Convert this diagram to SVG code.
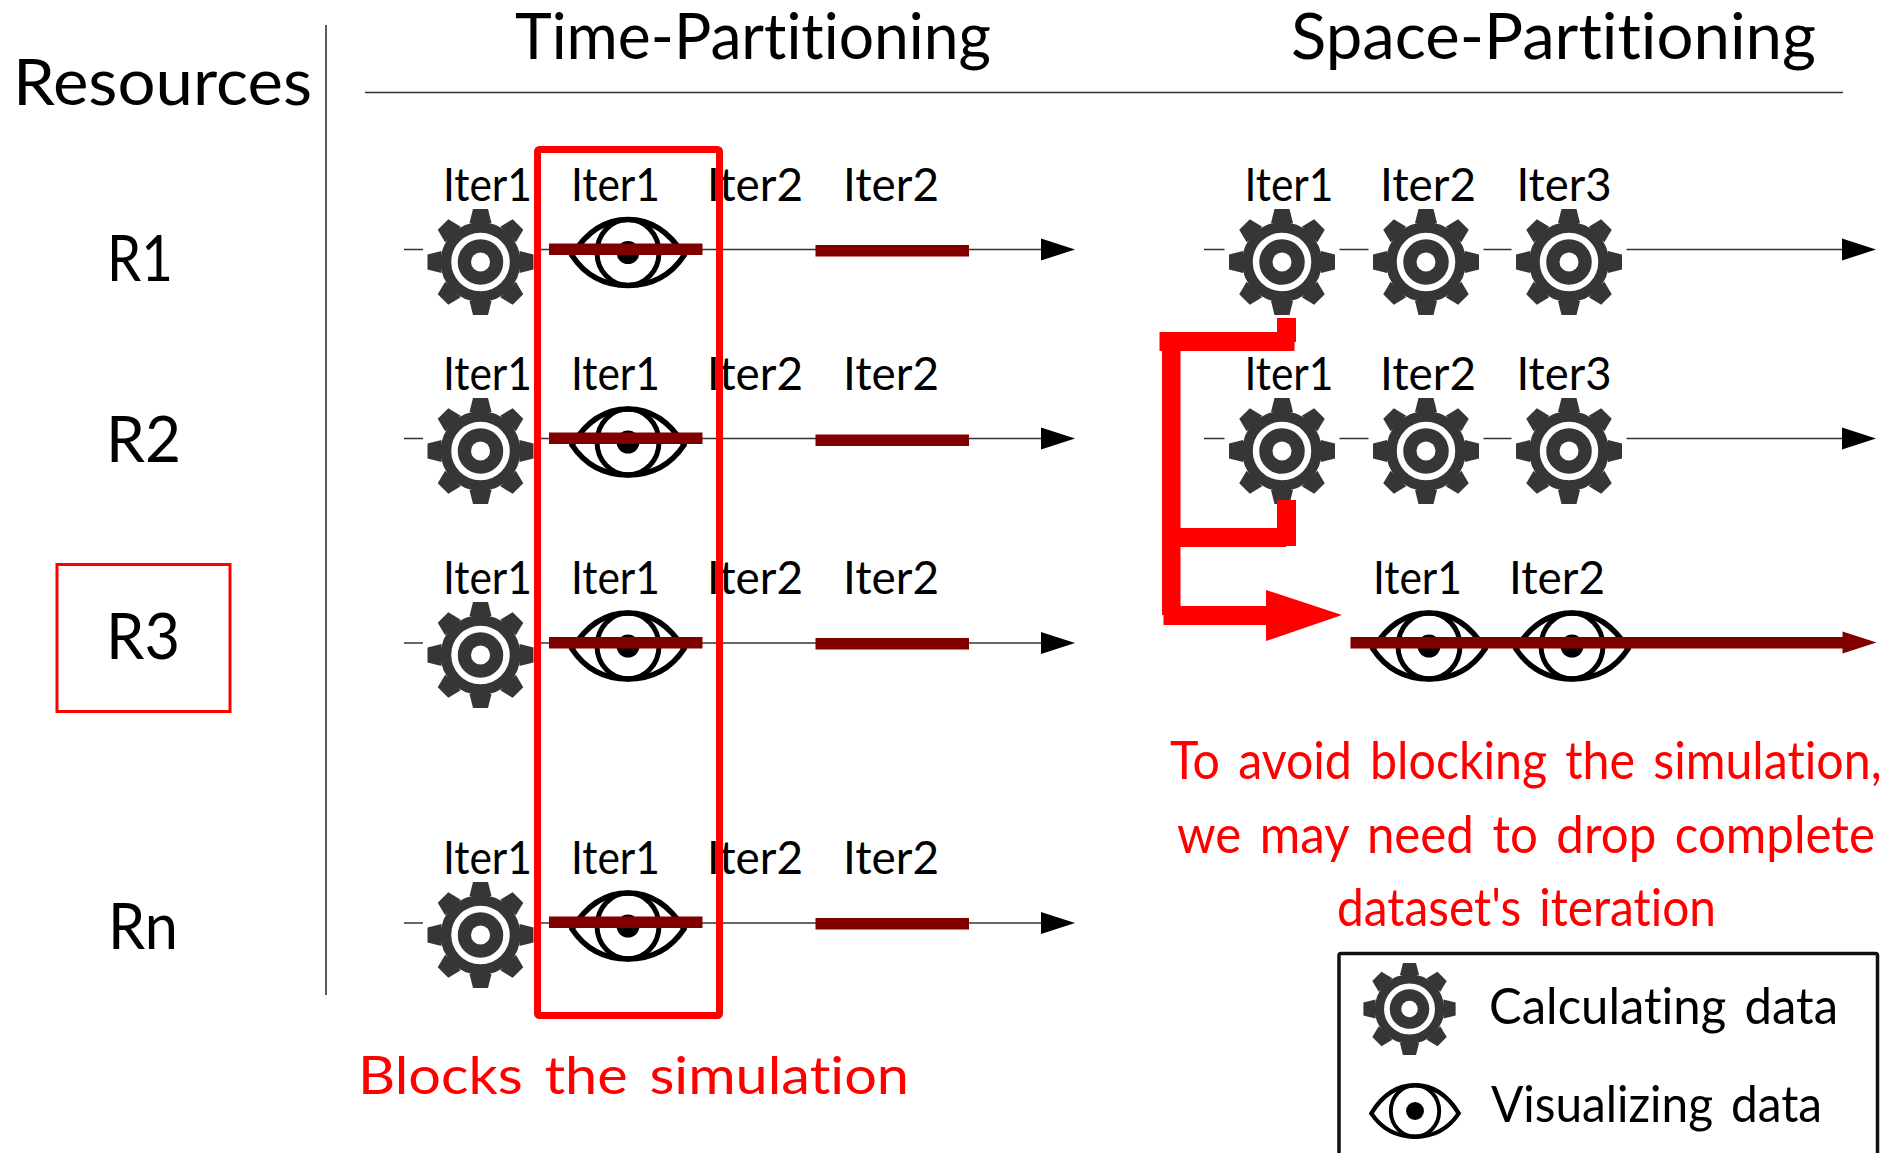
<svg xmlns="http://www.w3.org/2000/svg" xmlns:xlink="http://www.w3.org/1999/xlink" width="1890" height="1153" viewBox="0 0 1890 1153">
<style>
text{font-family:"Lato","Liberation Sans",sans-serif;fill:#000;font-variant-ligatures:none}
.it{font-size:47px}
.hd{font-size:63px}
.rs{font-size:64px}
.red{fill:#f00;font-size:52px;word-spacing:.12em}
.lg{font-size:51px;word-spacing:.12em}
.ln{stroke:#333;stroke-width:1.6;fill:none}
.ar{marker-end:url(#ah)}
.bar{fill:#800000}
.rc{fill:#f00}
</style>
<defs>
<marker id="ah" markerUnits="userSpaceOnUse" markerWidth="34" markerHeight="24" refX="0" refY="12" orient="auto"><path d="M0 1L34 12L0 23Z" fill="#000"/></marker>
<g id="gear">
<rect x="-57.500" y="-53" width="115" height="106" fill="#fff"/>
<g fill="#363636">
<circle r="40"/>
<path id="t" d="M-11 -39L-7.500 -53L7.500 -53L11 -39Z"/>
<use xlink:href="#t" transform="rotate(45)"/><use xlink:href="#t" transform="rotate(90)"/><use xlink:href="#t" transform="rotate(135)"/><use xlink:href="#t" transform="rotate(180)"/><use xlink:href="#t" transform="rotate(225)"/><use xlink:href="#t" transform="rotate(270)"/><use xlink:href="#t" transform="rotate(315)"/>
</g>
<circle r="26" fill="none" stroke="#fff" stroke-width="6.500"/>
<circle r="9.500" fill="#fff"/>
</g>
<g id="eye">
<path d="M-56 3C-42 -20 -24 -33 0 -33C24 -33 42 -20 56 3C42 24 24 33 0 33C-24 33 -42 24 -56 3Z" fill="none" stroke="#000" stroke-width="5.500"/>
<ellipse rx="31" ry="33" fill="none" stroke="#000" stroke-width="5"/>
<circle r="11.500" fill="#000"/>
</g>
</defs>
<rect width="1890" height="1153" fill="#fff"/>

<g id="connectors">
<path class="ln" d="M326 25V995"/>
<path class="ln" d="M365 92.500H1843"/>
<path class="ln ar" d="M404 249.500H1041"/>
<path class="ln ar" d="M404 438.500H1041"/>
<path class="ln ar" d="M404 643H1041"/>
<path class="ln ar" d="M404 923H1041"/>
<path class="ln ar" d="M1204 249.500H1842"/>
<path class="ln ar" d="M1204 438.500H1842"/>
</g>

<g id="header">
<text class="hd" x="515" y="59" textLength="476" lengthAdjust="spacingAndGlyphs">Time-Partitioning</text>
<text class="hd" x="1291" y="59" textLength="525" lengthAdjust="spacingAndGlyphs">Space-Partitioning</text>
<text class="rs" x="13" y="105" textLength="299" lengthAdjust="spacingAndGlyphs">Resources</text>
</g>
<g id="r1"><text class="rs" x="107" y="281" textLength="66" lengthAdjust="spacingAndGlyphs">R1</text></g>
<g id="r2"><text class="rs" x="106" y="462" textLength="75" lengthAdjust="spacingAndGlyphs">R2</text></g>
<g id="r3"><rect x="57" y="564.500" width="173" height="147" fill="none" stroke="#f00" stroke-width="3"/><text class="rs" x="106" y="659" textLength="74" lengthAdjust="spacingAndGlyphs">R3</text></g>
<g id="rn"><text class="rs" x="108" y="949" textLength="70" lengthAdjust="spacingAndGlyphs">Rn</text></g>

<g id="time-r1">
<use xlink:href="#gear" x="480.500" y="262"/><use xlink:href="#eye" x="628" y="252.500"/>
<text class="it" x="443" y="201" textLength="89" lengthAdjust="spacingAndGlyphs">Iter1</text><text class="it" x="571" y="201" textLength="89" lengthAdjust="spacingAndGlyphs">Iter1</text><text class="it" x="707" y="201" textLength="96" lengthAdjust="spacingAndGlyphs">Iter2</text><text class="it" x="843" y="201" textLength="96" lengthAdjust="spacingAndGlyphs">Iter2</text>
</g>
<g id="time-r2">
<use xlink:href="#gear" x="480.500" y="451"/><use xlink:href="#eye" x="628" y="442"/>
<text class="it" x="443" y="390" textLength="89" lengthAdjust="spacingAndGlyphs">Iter1</text><text class="it" x="571" y="390" textLength="89" lengthAdjust="spacingAndGlyphs">Iter1</text><text class="it" x="707" y="390" textLength="96" lengthAdjust="spacingAndGlyphs">Iter2</text><text class="it" x="843" y="390" textLength="96" lengthAdjust="spacingAndGlyphs">Iter2</text>
</g>
<g id="time-r3">
<use xlink:href="#gear" x="480.500" y="655"/><use xlink:href="#eye" x="628" y="646"/>
<text class="it" x="443" y="594" textLength="89" lengthAdjust="spacingAndGlyphs">Iter1</text><text class="it" x="571" y="594" textLength="89" lengthAdjust="spacingAndGlyphs">Iter1</text><text class="it" x="707" y="594" textLength="96" lengthAdjust="spacingAndGlyphs">Iter2</text><text class="it" x="843" y="594" textLength="96" lengthAdjust="spacingAndGlyphs">Iter2</text>
</g>
<g id="time-rn">
<use xlink:href="#gear" x="480.500" y="935"/><use xlink:href="#eye" x="628" y="926"/>
<text class="it" x="443" y="874" textLength="89" lengthAdjust="spacingAndGlyphs">Iter1</text><text class="it" x="571" y="874" textLength="89" lengthAdjust="spacingAndGlyphs">Iter1</text><text class="it" x="707" y="874" textLength="96" lengthAdjust="spacingAndGlyphs">Iter2</text><text class="it" x="843" y="874" textLength="96" lengthAdjust="spacingAndGlyphs">Iter2</text>
</g>

<g id="space-r1">
<use xlink:href="#gear" x="1282" y="262"/><use xlink:href="#gear" x="1426" y="262"/><use xlink:href="#gear" x="1569" y="262"/>
<text class="it" x="1244.500" y="201" textLength="89" lengthAdjust="spacingAndGlyphs">Iter1</text><text class="it" x="1380" y="201" textLength="96" lengthAdjust="spacingAndGlyphs">Iter2</text><text class="it" x="1516.500" y="201" textLength="95" lengthAdjust="spacingAndGlyphs">Iter3</text>
</g>
<g id="space-r2">
<use xlink:href="#gear" x="1282" y="451"/><use xlink:href="#gear" x="1426" y="451"/><use xlink:href="#gear" x="1569" y="451"/>
<text class="it" x="1244.500" y="390" textLength="89" lengthAdjust="spacingAndGlyphs">Iter1</text><text class="it" x="1380" y="390" textLength="96" lengthAdjust="spacingAndGlyphs">Iter2</text><text class="it" x="1516.500" y="390" textLength="95" lengthAdjust="spacingAndGlyphs">Iter3</text>
</g>
<g id="space-r3">
<use xlink:href="#eye" x="1429" y="646"/><use xlink:href="#eye" x="1572" y="646"/>
<text class="it" x="1373" y="594" textLength="89" lengthAdjust="spacingAndGlyphs">Iter1</text><text class="it" x="1509" y="594" textLength="96" lengthAdjust="spacingAndGlyphs">Iter2</text>
</g>

<g id="bars">
<rect class="bar" x="549" y="243.500" width="153.500" height="11.500"/><rect class="bar" x="815.500" y="245" width="153.500" height="11.500"/>
<rect class="bar" x="549" y="432.500" width="153.500" height="11.500"/><rect class="bar" x="815.500" y="434.500" width="153.500" height="11.500"/>
<rect class="bar" x="549" y="637" width="153.500" height="11.500"/><rect class="bar" x="815.500" y="638" width="153.500" height="11.500"/>
<rect class="bar" x="549" y="916.500" width="153.500" height="11.500"/><rect class="bar" x="815.500" y="918" width="153.500" height="11.500"/>
<path class="bar" d="M1350.500 637H1842.500V631.500L1876.500 642.500L1842.500 653.500V648.500H1350.500Z"/>
</g>

<g id="blocking-box"><rect x="537.500" y="149.500" width="182" height="866" rx="2" fill="none" stroke="#f00" stroke-width="7"/></g>

<g id="redirect">
<rect class="rc" x="1277" y="318" width="19" height="24"/>
<rect class="rc" x="1159.500" y="332" width="135" height="19"/>
<rect class="rc" x="1162" y="332" width="18.500" height="283"/>
<rect class="rc" x="1277" y="500" width="19" height="46"/>
<rect class="rc" x="1180" y="528" width="106" height="19"/>
<rect class="rc" x="1163.500" y="606" width="103" height="19"/>
<path class="rc" d="M1266 590L1342 615L1266 641Z"/>
</g>

<g id="notes">
<text class="red" x="358" y="1094" textLength="551" lengthAdjust="spacingAndGlyphs">Blocks the simulation</text>
<text class="red" transform="translate(1170 779) scale(.929 1)">To avoid blocking the simulation,</text>
<text class="red" transform="translate(1177 853) scale(.947 1)">we may need to drop complete</text>
<text class="red" x="1337" y="926" textLength="379" lengthAdjust="spacingAndGlyphs">dataset's iteration</text>
</g>

<g id="legend">
<rect x="1339" y="953.500" width="538.500" height="230" rx="2" fill="none" stroke="#111" stroke-width="3.500"/>
<use xlink:href="#gear" transform="translate(1409.500 1009) scale(.87)"/>
<use xlink:href="#eye" transform="translate(1415 1111) scale(.78)"/>
<text class="lg" x="1489" y="1024" textLength="349" lengthAdjust="spacingAndGlyphs">Calculating data</text>
<text class="lg" x="1491" y="1122" textLength="331" lengthAdjust="spacingAndGlyphs">Visualizing data</text>
</g>
</svg>
